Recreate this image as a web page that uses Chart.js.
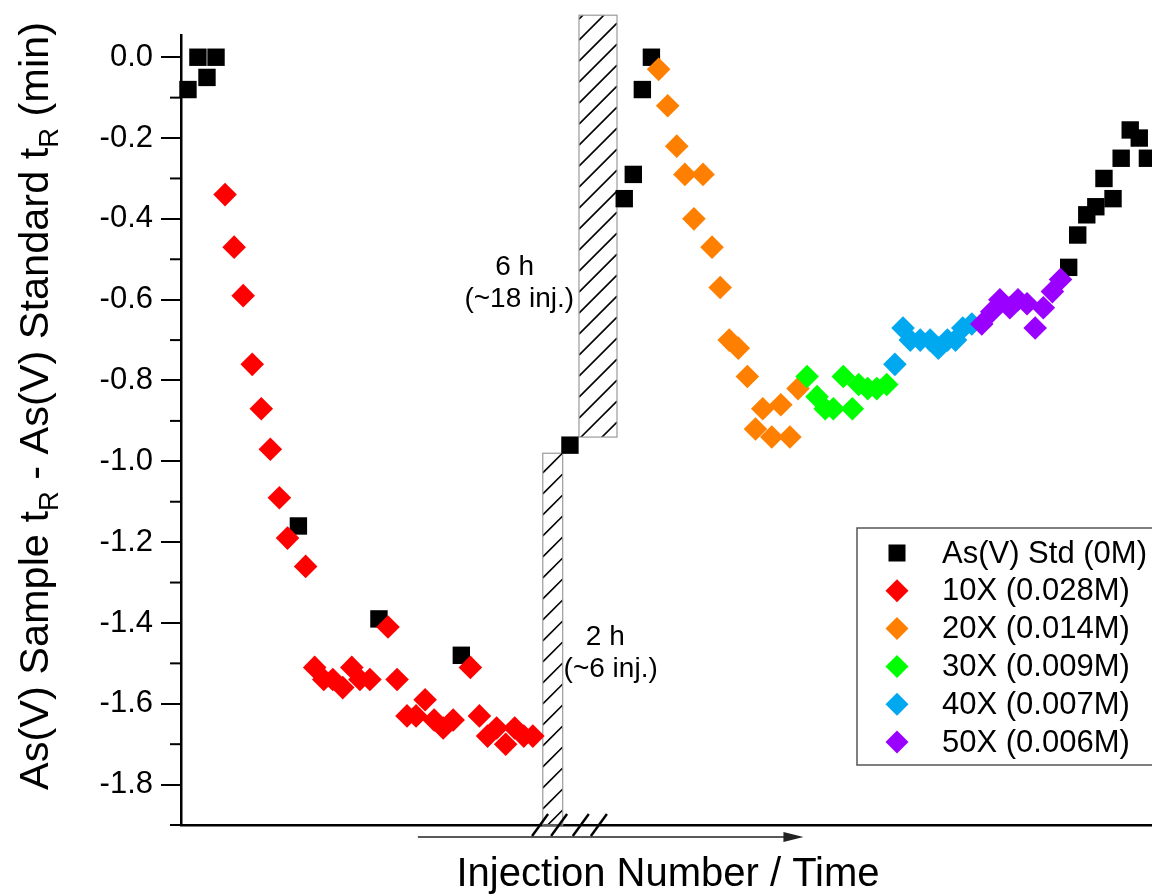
<!DOCTYPE html>
<html><head><meta charset="utf-8">
<script src="https://cdn.jsdelivr.net/npm/chart.js@4/dist/chart.umd.min.js"></script>
<style>html,body{margin:0;padding:0;overflow:hidden;background:#fff}canvas{display:block}</style>
</head><body>
<canvas id="c" width="1180" height="894" style="width:1180px;height:894px"></canvas>
<script>
const FONT = '"Liberation Sans", Arial, sans-serif';

// ---- data (x = injection index, y = tR difference in min) ----
const seriesLabels = ['As(V) Std (0M)', '10X (0.028M)', '20X (0.014M)', '30X (0.009M)', '40X (0.007M)', '50X (0.006M)'];
const seriesColors = ['#000000', '#FF0000', '#FF8000', '#00FF00', '#00A8F0', '#9900FF'];

const stdX = [0.0, 1.1, 2.1, 3.1, 12.2, 21.1, 30.2, 42.2, 48.2, 49.2, 50.2, 51.2, 97.3, 98.3, 99.3, 100.3, 101.2, 102.2, 103.1, 104.1, 105.1, 106.0];
const stdY = [-0.08, 0.00, -0.05, 0.00, -1.16, -1.39, -1.48, -0.96, -0.35, -0.29, -0.08, 0.00, -0.52, -0.44, -0.39, -0.37, -0.30, -0.35, -0.25, -0.18, -0.20, -0.25];

const x10 = [4.1, 5.1, 6.1, 7.1, 8.1, 9.1, 10.1, 11.0, 13.0, 14.0, 15.0, 16.0, 17.1, 18.1, 19.0, 20.1, 22.1, 23.1, 24.2, 25.2, 26.2, 27.2, 28.2, 29.3, 31.2, 32.2, 33.1, 34.1, 35.1, 36.1, 37.1, 38.1];
const y10 = [-0.34, -0.47, -0.59, -0.76, -0.87, -0.97, -1.09, -1.19, -1.26, -1.51, -1.54, -1.54, -1.56, -1.51, -1.54, -1.54, -1.41, -1.54, -1.63, -1.63, -1.59, -1.64, -1.66, -1.64, -1.51, -1.63, -1.68, -1.66, -1.70, -1.66, -1.68, -1.68];

const x20 = [52.0, 53.0, 54.0, 54.9, 55.9, 56.9, 57.9, 58.8, 59.8, 60.8, 61.8, 62.7, 63.5, 64.5, 65.5, 66.5, 67.4];
const y20 = [-0.03, -0.12, -0.22, -0.29, -0.40, -0.29, -0.47, -0.57, -0.70, -0.72, -0.79, -0.92, -0.87, -0.94, -0.86, -0.94, -0.82];

const x30 = [68.4, 69.5, 70.4, 71.3, 72.4, 73.4, 74.1, 75.1, 76.1, 77.2];
const y30 = [-0.79, -0.84, -0.87, -0.87, -0.79, -0.87, -0.81, -0.82, -0.82, -0.81];

const x40 = [78.1, 79.0, 79.8, 80.9, 82.0, 82.9, 83.9, 84.8, 85.6, 86.6];
const y40 = [-0.76, -0.67, -0.70, -0.70, -0.70, -0.72, -0.70, -0.70, -0.67, -0.66];

const x50 = [87.7, 88.8, 89.7, 90.8, 91.7, 92.7, 93.6, 94.5, 95.5, 96.4];
const y50 = [-0.66, -0.63, -0.60, -0.62, -0.60, -0.61, -0.67, -0.62, -0.58, -0.55];

// time gaps (hatched blocks) in data units: [xStart, xEnd, yBottom, yTop]
const gapBlocks = [[39.2, 41.4, -1.90, -0.98], [43.2, 47.4, -0.94, 0.104]];
const gapLabels = [['6 h', 36.1, -0.52], ['(~18 inj.)', 36.6, -0.60], ['2 h', 46.1, -1.435], ['(~6 inj.)', 46.7, -1.515]];
const axisBreakX = [38.9, 41.0, 43.4, 45.4];
const timeArrow = [25.4, 68.0];
const yMinorTicks = [-0.1, -0.3, -0.5, -0.7, -0.9, -1.1, -1.3, -1.5, -1.7, -1.9];

const xs = [stdX, x10, x20, x30, x40, x50];
const ys = [stdY, y10, y20, y30, y40, y50];

function pts(xa, ya) { return xa.map((v, i) => ({x: v, y: ya[i]})); }

const datasets = seriesLabels.map((lab, i) => ({
  label: lab,
  data: pts(xs[i], ys[i]),
  backgroundColor: seriesColors[i],
  borderColor: seriesColors[i],
  borderWidth: 0,
  pointStyle: i === 0 ? 'rect' : 'rectRot',
  pointRadius: i === 0 ? 12.3 : 11.8,
  pointHoverRadius: i === 0 ? 12.3 : 11.8,
  order: 6 - i,
  showLine: false,
  clip: false
}));

function drawMarker(ctx, isSquare, cx, cy, color) {
  ctx.fillStyle = color;
  if (isSquare) { ctx.fillRect(cx - 8.5, cy - 8.5, 17, 17); }
  else {
    ctx.beginPath(); ctx.moveTo(cx, cy - 11.5); ctx.lineTo(cx + 11.5, cy); ctx.lineTo(cx, cy + 11.5); ctx.lineTo(cx - 11.5, cy); ctx.closePath(); ctx.fill();
  }
}

const decor = {
  id: 'decor',
  beforeDatasetsDraw(chart) {
    const {ctx, scales: {x, y}} = chart;
    gapBlocks.forEach(b => {
      const l = x.getPixelForValue(b[0]), r = x.getPixelForValue(b[1]);
      const bt = y.getPixelForValue(b[2]), t = y.getPixelForValue(b[3]);
      const w = r - l, s = 21;
      ctx.save();
      ctx.beginPath(); ctx.rect(l, t, w, bt - t); ctx.clip();
      ctx.strokeStyle = '#000'; ctx.lineWidth = 1.6;
      for (let yy = bt + w + 6; yy > t - s; yy -= s) {
        ctx.beginPath(); ctx.moveTo(l, yy); ctx.lineTo(r, yy - w); ctx.stroke();
      }
      ctx.restore();
      ctx.save(); ctx.strokeStyle = '#9a9a9a'; ctx.lineWidth = 1.2; ctx.strokeRect(l, t, w, bt - t); ctx.restore();
    });
  },
  afterDraw(chart) {
    const {ctx, chartArea: ca, scales: {x, y}} = chart;
    ctx.save();
    // minor ticks
    ctx.strokeStyle = '#000'; ctx.lineWidth = 2;
    yMinorTicks.forEach(v => {
      const py = y.getPixelForValue(v);
      ctx.beginPath(); ctx.moveTo(ca.left - 11, py); ctx.lineTo(ca.left, py); ctx.stroke();
    });
    // axis break marks
    ctx.lineWidth = 2.4;
    axisBreakX.forEach(v => {
      const px = x.getPixelForValue(v);
      ctx.beginPath(); ctx.moveTo(px - 8, ca.bottom + 11); ctx.lineTo(px + 8, ca.bottom - 11); ctx.stroke();
    });
    // time arrow
    const ay = ca.bottom + 12;
    const a0 = x.getPixelForValue(timeArrow[0]), a1 = x.getPixelForValue(timeArrow[1]);
    ctx.strokeStyle = '#222'; ctx.fillStyle = '#222'; ctx.lineWidth = 1.4;
    ctx.beginPath(); ctx.moveTo(a0, ay); ctx.lineTo(a1 - 18, ay); ctx.stroke();
    ctx.beginPath(); ctx.moveTo(a1, ay); ctx.lineTo(a1 - 20, ay - 5); ctx.lineTo(a1 - 20, ay + 5); ctx.closePath(); ctx.fill();
    // gap annotations
    ctx.fillStyle = '#000'; ctx.textAlign = 'center'; ctx.textBaseline = 'middle';
    ctx.font = '28px ' + FONT;
    gapLabels.forEach(g => ctx.fillText(g[0], x.getPixelForValue(g[1]), y.getPixelForValue(g[2])));
    // legend
    const lg = {l: ca.left + 676, t: 528, b: 765, r: ca.right + 20};
    ctx.strokeStyle = '#555'; ctx.lineWidth = 1.5;
    ctx.strokeRect(lg.l, lg.t, lg.r - lg.l, lg.b - lg.t);
    ctx.textAlign = 'left'; ctx.font = '31px ' + FONT;
    chart.data.datasets.forEach((d, i) => {
      const cy = 553 + i * 37.8;
      drawMarker(ctx, i === 0, lg.l + 40, cy, d.backgroundColor);
      ctx.fillStyle = '#000';
      ctx.fillText(d.label, lg.l + 85, cy + 1);
    });
    // x title
    ctx.textAlign = 'center'; ctx.textBaseline = 'alphabetic'; ctx.font = '40px ' + FONT;
    ctx.fillText('Injection Number / Time', 668, 886);
    // y title with subscripts
    const parts = [['As(V) Sample t', 0], ['R', 1], [' - As(V) Standard t', 0], ['R', 1], [' (min)', 0]];
    const fs = 41, ss = 27;
    let W = 0;
    parts.forEach(p => { ctx.font = (p[1] ? ss : fs) + 'px ' + FONT; W += ctx.measureText(p[0]).width; });
    const k = 768 / W;
    ctx.translate(48, 406); ctx.rotate(-Math.PI / 2); ctx.scale(k, 1);
    ctx.textAlign = 'left';
    let cx = -W / 2;
    parts.forEach(p => {
      ctx.font = (p[1] ? ss : fs) + 'px ' + FONT;
      ctx.fillText(p[0], cx, p[1] ? 10 : 0);
      cx += ctx.measureText(p[0]).width;
    });
    ctx.restore();
  }
};

new Chart(document.getElementById('c'), {
  type: 'scatter',
  data: {datasets},
  options: {
    responsive: false, animation: false, devicePixelRatio: 1, events: [],
    layout: {autoPadding: false, padding: {top: 35, left: 0, right: 0, bottom: 0}},
    plugins: {legend: {display: false}, tooltip: {enabled: false}},
    scales: {
      x: {
        type: 'linear', min: -0.77, max: 109.6,
        afterFit(s) { s.height = 69; },
        ticks: {display: false},
        grid: {display: false, drawTicks: false},
        border: {display: true, color: '#000', width: 2.5}
      },
      y: {
        type: 'linear', min: -1.9, max: 0.055,
        afterFit(s) { s.width = 181; },
        ticks: {stepSize: 0.2, includeBounds: false, color: '#000', padding: 8,
          font: {family: FONT, size: 31},
          callback: v => Math.abs(v) < 1e-9 ? '0.0' : v.toFixed(1)},
        grid: {display: true, drawOnChartArea: false, drawTicks: true, tickLength: 20, color: '#000', lineWidth: 2},
        border: {display: true, color: '#000', width: 2.5}
      }
    }
  },
  plugins: [decor]
});
</script>
</body></html>
